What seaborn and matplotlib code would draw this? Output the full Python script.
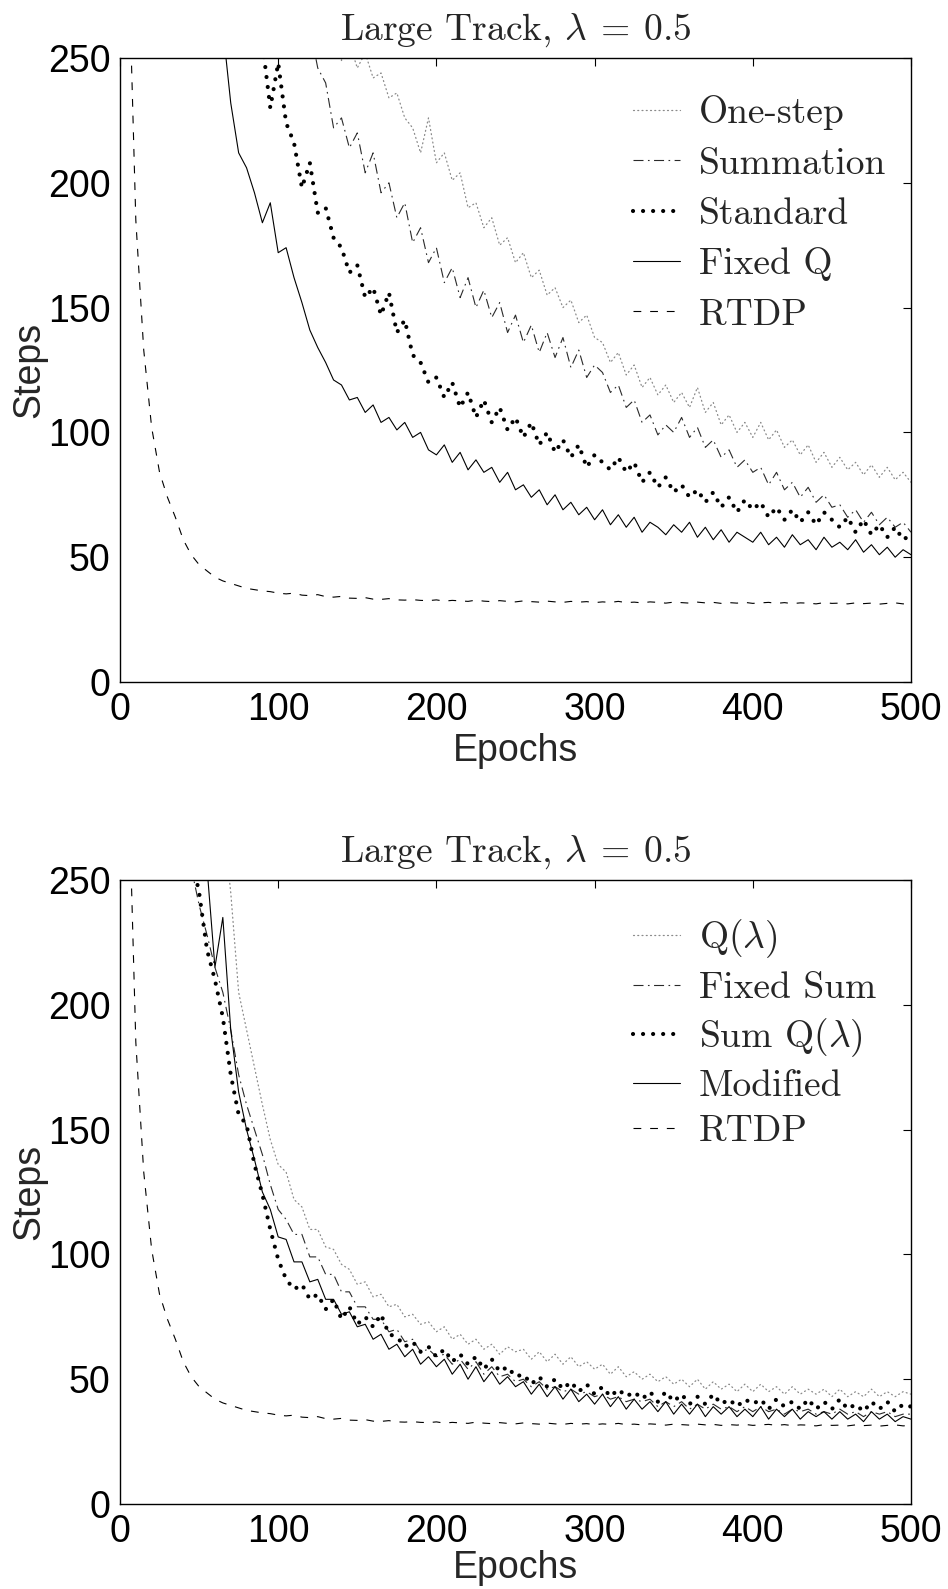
import matplotlib
matplotlib.use("Agg")
import matplotlib.pyplot as plt
import seaborn as sns

epochs = list(range(5, 501, 5))

rtdp = [300, 185, 133, 102, 84, 74, 66, 57, 51, 47,
        44.5, 42, 40.5, 39.5, 38.5, 37.5, 37, 36.5, 36.2, 35.6,
        35.3, 35.6, 34.8, 34.6, 35.0, 34.2, 34.0, 34.3, 33.6, 33.5,
        33.8, 33.2, 33.1, 33.4, 32.9, 32.8, 33.0, 32.7, 32.6, 32.9,
        32.4, 32.7, 32.5, 32.3, 32.8, 32.4, 32.2, 32.6, 32.3, 32.1,
        32.5, 32.2, 32.0, 32.4, 32.1, 31.9, 32.3, 32.0, 32.2, 31.8,
        32.1, 31.9, 32.3, 31.8, 32.0, 31.7, 32.1, 31.9, 31.6, 32.0,
        31.8, 31.6, 32.0, 31.7, 31.9, 31.5, 31.8, 31.6, 31.9, 31.5,
        31.7, 31.9, 31.5, 31.8, 31.4, 31.7, 31.6, 31.3, 31.8, 31.5,
        31.6, 31.3, 31.7, 31.4, 31.6, 31.2, 31.5, 31.7, 31.3, 31.5]

# top panel
one_step = [700, 680, 660, 640, 620, 600, 580, 560, 540, 520,
            500, 480, 460, 440, 420, 400, 385, 370, 355, 340,
            330, 318, 306, 294, 282, 270, 258, 249, 256, 246,
            252, 242, 244, 234, 236, 226, 222, 212, 226, 208,
            212, 201, 204, 190, 192, 182, 186, 175, 178, 168,
            172, 162, 165, 155, 158, 150, 153, 144, 147, 138,
            136, 128, 132, 123, 127, 118, 122, 115, 119, 112,
            116, 110, 118, 108, 112, 103, 107, 100, 104, 98,
            104, 97, 101, 94, 97, 91, 95, 88, 92, 86,
            90, 85, 88, 83, 87, 82, 86, 81, 84, 80]

summation = [650, 630, 610, 590, 570, 550, 530, 510, 490, 460,
             430, 415, 400, 385, 370, 355, 340, 325, 312, 300,
             290, 282, 275, 262, 246, 240, 222, 226, 214, 220,
             204, 212, 196, 200, 186, 192, 176, 182, 168, 174,
             160, 166, 154, 162, 150, 157, 146, 152, 140, 147,
             136, 143, 132, 140, 130, 138, 126, 133, 122, 127,
             124, 116, 119, 110, 113, 104, 107, 99, 103, 100,
             106, 98, 102, 94, 97, 90, 93, 86, 89, 84,
             86, 79, 84, 77, 80, 74, 78, 72, 75, 70,
             71, 66, 69, 64, 68, 63, 66, 62, 64, 60]

standard = [420, 410, 400, 390, 380, 370, 360, 350, 340, 330,
            320, 310, 300, 292, 284, 276, 268, 256, 230, 248,
            224, 216, 198, 208, 188, 190, 178, 174, 164, 167,
            154, 158, 147, 156, 140, 145, 131, 128, 120, 122,
            114, 120, 110, 116, 106, 113, 104, 110, 101, 106,
            98, 104, 95, 100, 92, 97, 90, 95, 86, 91,
            88, 85, 90, 84, 88, 80, 84, 78, 82, 76,
            79, 74, 77, 72, 76, 70, 74, 68, 73, 69,
            72, 66, 70, 65, 69, 64, 68, 63, 68, 65,
            62, 66, 60, 65, 59, 63, 58, 62, 57, 59]

fixed_q = [480, 460, 440, 420, 400, 385, 370, 350, 335, 315,
           300, 280, 262, 232, 212, 206, 196, 184, 192, 172,
           174, 162, 152, 141, 134, 128, 121, 119, 113, 114,
           108, 111, 104, 106, 101, 104, 98, 100, 93, 91,
           95, 88, 92, 85, 89, 84, 86, 80, 84, 77,
           79, 74, 77, 71, 75, 69, 72, 67, 70, 65,
           69, 63, 67, 62, 66, 60, 64, 62, 59, 63,
           60, 64, 58, 62, 57, 61, 56, 60, 58, 56,
           60, 55, 58, 54, 59, 55, 57, 53, 58, 54,
           56, 53, 57, 52, 55, 51, 54, 50, 53, 51]

# bottom panel
q_lambda = [700, 660, 620, 580, 540, 500, 470, 440, 410, 380,
            340, 310, 275, 245, 205, 190, 175, 160, 146, 136,
            133, 122, 119, 110, 110, 103, 102, 96, 94, 88,
            89, 83, 84, 79, 80, 75, 76, 72, 73, 69,
            71, 66, 68, 64, 66, 62, 64, 60, 63, 61,
            62, 58, 61, 57, 60, 56, 59, 55, 57, 54,
            56, 52, 55, 51, 53, 50, 52, 49, 51, 48,
            50, 47, 50, 46, 49, 46, 48, 45, 48, 45,
            48, 45, 47, 44, 47, 44, 46, 44, 46, 43,
            46, 43, 45, 43, 46, 43, 45, 43, 45, 44]

fixed_sum = [600, 560, 520, 480, 440, 400, 360, 320, 255, 240,
             228, 215, 205, 190, 172, 160, 150, 140, 128, 118,
             114, 108, 108, 99, 99, 92, 92, 85, 85, 79,
             79, 74, 74, 69, 70, 65, 66, 61, 62, 59,
             60, 56, 58, 54, 57, 52, 55, 51, 52, 49,
             50, 47, 49, 46, 47, 45, 46, 44, 45, 43,
             44, 42, 43, 41, 42, 41, 42, 39, 41, 39,
             41, 38, 40, 38, 40, 38, 39, 37, 39, 37,
             39, 37, 38, 36, 38, 37, 38, 36, 37, 36,
             38, 36, 37, 35, 37, 36, 37, 35, 36, 36]

sum_q_lambda = [520, 480, 440, 400, 370, 340, 310, 280, 260, 245,
                222, 210, 195, 172, 156, 152, 136, 124, 110, 98,
                90, 86, 88, 82, 84, 78, 82, 74, 79, 72,
                75, 71, 76, 68, 67, 63, 65, 61, 63, 59,
                62, 57, 60, 56, 59, 54, 58, 53, 55, 51,
                52, 48, 51, 47, 50, 46, 49, 45, 48, 44,
                47, 43, 46, 43, 45, 42, 45, 41, 45, 41,
                44, 40, 43, 40, 44, 40, 42, 39, 42, 40,
                42, 38, 42, 39, 41, 38, 42, 38, 41, 38,
                42, 38, 40, 37, 41, 38, 41, 37, 40, 39]

modified = [500, 460, 420, 390, 360, 340, 320, 300, 285, 270,
            255, 215, 235, 190, 165, 150, 138, 125, 118, 107,
            106, 97, 97, 89, 90, 82, 82, 76, 77, 71,
            72, 66, 68, 62, 64, 59, 62, 56, 59, 55,
            58, 52, 56, 50, 55, 49, 53, 48, 51, 47,
            49, 44, 48, 43, 47, 42, 46, 41, 44, 40,
            44, 39, 43, 38, 42, 38, 41, 37, 41, 36,
            40, 36, 40, 35, 39, 36, 39, 35, 38, 35,
            39, 34, 38, 35, 38, 34, 37, 35, 37, 34,
            37, 34, 36, 33, 37, 34, 36, 33, 35, 34]

title_text = r"Large Track, $\lambda\:=\:0.5$"
x_ticks = [0, 100, 200, 300, 400, 500]
y_ticks = [0, 50, 100, 150, 200, 250]

# ---------------- styles ----------------
sty_dotted = dict(color="#8a8a8a", linewidth=0.9, linestyle=(0, (0.8, 2.6)),
                  dash_capstyle="round")
sty_dashdot = dict(color="#2a2a2a", linewidth=0.8, linestyle=(0, (9, 4, 1.5, 4)))
sty_fatdots = dict(color="black", linewidth=3.0, linestyle=(0, (0.01, 2.4)),
                   dash_capstyle="round")
sty_solid = dict(color="black", linewidth=0.8, linestyle="-")
sty_dashed = dict(color="black", linewidth=0.8, linestyle=(0, (7, 8)))

panels = [
    [("One-step", one_step, sty_dotted),
     ("Summation", summation, sty_dashdot),
     ("Standard", standard, sty_fatdots),
     ("Fixed Q", fixed_q, sty_solid),
     ("RTDP", rtdp, sty_dashed)],
    [(r"Q($\lambda$)", q_lambda, sty_dotted),
     ("Fixed Sum", fixed_sum, sty_dashdot),
     (r"Sum Q($\lambda$)", sum_q_lambda, sty_fatdots),
     ("Modified", modified, sty_solid),
     ("RTDP", rtdp, sty_dashed)],
]

sns.set_theme(style="white")
plt.rcParams["font.family"] = ["Liberation Sans", "DejaVu Sans"]
plt.rcParams["mathtext.fontset"] = "cm"
plt.rcParams["axes.unicode_minus"] = False

W, H = 948, 1589
fig = plt.figure(figsize=(W / 100, H / 100), dpi=100)
fig.patch.set_facecolor("white")
axes_px = [(120, 58, 911, 682), (120, 880, 911, 1504)]
xlabel_pads = [4, 0]
legend_spacing = [0.45, 0.3]

for (x0, y0, x1, y1), series, xpad, lsp in zip(axes_px, panels, xlabel_pads,
                                               legend_spacing):
    ax = fig.add_axes([x0 / W, 1 - y1 / H, (x1 - x0) / W, (y1 - y0) / H])
    for name, vals, st in series:
        sns.lineplot(x=epochs, y=vals, ax=ax, label=name,
                     estimator=None, sort=False, **st)
    ax.set_xlim(0, 500)
    ax.set_ylim(0, 250)
    ax.set_xticks(x_ticks)
    ax.set_yticks(y_ticks)
    ax.tick_params(direction="in", top=True, right=True, length=6, width=0.8,
                   labelsize=27, pad=7, colors="black")
    for sp in ax.spines.values():
        sp.set_visible(True)
        sp.set_color("black")
        sp.set_linewidth(1.0)
    ax.set_xlabel("Epochs", fontsize=27, labelpad=xpad)
    ax.set_ylabel("Steps", fontsize=27, labelpad=0)
    ax.set_title(title_text, fontfamily="cmr10", fontsize=27, pad=13)
    ax.legend(loc="upper left", bbox_to_anchor=(0.6486, 0.94), frameon=False,
              prop={"family": "cmr10", "size": 27}, borderpad=0, borderaxespad=0,
              handlelength=1.25, handletextpad=0.5, labelspacing=lsp)

fig.savefig("out.png", dpi=100, facecolor="white")
